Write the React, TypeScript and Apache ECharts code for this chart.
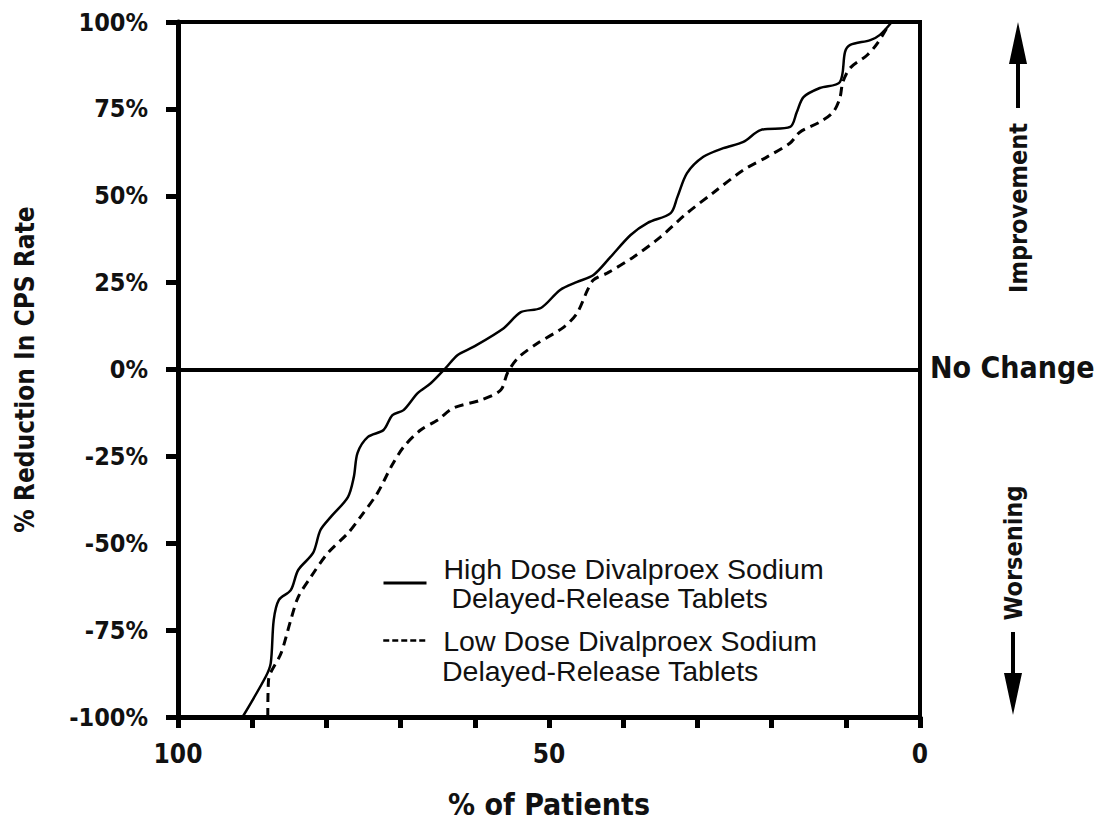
import React, { useEffect, useRef } from "react";
import * as echarts from "echarts";

// % of patients (x) and % reduction in CPS rate (y)
const HIGH_X = [91.3, 88.2, 87.5, 87.1, 86.4, 84.8, 83.8, 81.8, 80.8, 79.4, 77.1, 76.3, 75.8, 74.4, 72.3, 71.1, 69.6, 67.7, 65.9, 63.9, 62.3, 60.2, 56.1, 53.8, 51.1, 48.5, 46.2, 44.0, 41.7, 39.0, 36.7, 33.6, 32.7, 31.4, 29.2, 26.5, 23.8, 21.5, 17.5, 16.6, 15.7, 13.5, 10.8, 10.1, 9.4, 6.7, 5.4, 3.8];
const HIGH_Y = [-100, -88.5, -84.5, -72.1, -66.3, -63.5, -57.7, -52.8, -46.2, -42.4, -36.7, -30.9, -24.0, -19.4, -17.4, -13.1, -11.7, -6.8, -3.9, 0.5, 4.2, 6.5, 11.9, 16.5, 17.7, 22.9, 25.2, 27.2, 32.4, 38.7, 42.2, 45.0, 49.6, 56.5, 61.2, 63.7, 65.5, 68.9, 69.8, 74.1, 78.4, 81.0, 82.7, 91.4, 93.4, 94.8, 96.3, 100];

const LOW_X = [87.9, 87.8, 86.1, 84.8, 83.8, 82.1, 79.8, 77.1, 75.4, 73.1, 71.3, 69.6, 67.3, 65.0, 62.9, 59.2, 56.5, 55.6, 54.2, 51.5, 48.0, 46.2, 44.8, 44.0, 42.1, 38.6, 35.0, 31.4, 27.9, 23.8, 20.6, 17.5, 16.2, 13.5, 11.7, 10.8, 10.4, 9.4, 7.1, 5.7, 4.0];
const LOW_Y = [-100, -89.4, -81.6, -72.1, -65.5, -59.7, -52.8, -47.1, -42.4, -35.5, -28.1, -22.3, -17.4, -14.5, -11.1, -8.8, -5.9, -1.0, 3.3, 7.6, 12.2, 16.3, 22.9, 25.8, 27.8, 32.4, 38.1, 45.0, 50.8, 57.4, 61.2, 65.2, 68.3, 71.2, 74.1, 78.1, 82.7, 86.8, 90.5, 94.0, 100];

const X_LABELS = [100, 50, 0];
const HIGH_NAME = "High Dose Divalproex Sodium Delayed-Release Tablets";
const LOW_NAME = "Low Dose Divalproex Sodium Delayed-Release Tablets";

const COND = "'DejaVu Sans Condensed', 'Liberation Sans Narrow', 'Arial Narrow', sans-serif";
const SANS = "'Liberation Sans', Arial, sans-serif";
const LEGEND_SIZE = 28.5;

export default function App() {
  const ref = useRef<HTMLDivElement>(null);
  useEffect(() => {
    if (!ref.current) return;
    const chart = echarts.init(ref.current, undefined, { renderer: "svg" });
    const high = HIGH_X.map((x, i) => [x, HIGH_Y[i]]);
    const low = LOW_X.map((x, i) => [x, LOW_Y[i]]);
    const legendText = { fontFamily: SANS, fontSize: LEGEND_SIZE, color: "#111", padding: [0, 0, 0, 12] };
    chart.setOption({
      animation: false,
      backgroundColor: "#fff",
      grid: { left: 178, right: 178, top: 22, bottom: 106, show: true, borderColor: "#000", borderWidth: 4 },
      xAxis: {
        type: "value",
        min: 0,
        max: 100,
        interval: 10,
        inverse: true,
        name: "% of Patients",
        nameLocation: "middle",
        nameGap: 72,
        nameTextStyle: { fontFamily: COND, fontWeight: "bold", fontSize: 30, color: "#111" },
        axisLine: { show: true, onZero: false, lineStyle: { color: "#000", width: 5 } },
        axisTick: { show: true, inside: false, length: 11, lineStyle: { color: "#000", width: 5 } },
        axisLabel: {
          margin: 24,
          fontFamily: COND,
          fontWeight: "bold",
          fontSize: 26,
          color: "#111",
          formatter: (v: number) => (X_LABELS.includes(v) ? String(v) : ""),
        },
        splitLine: { show: false },
      },
      yAxis: {
        type: "value",
        min: -100,
        max: 100,
        interval: 25,
        name: "% Reduction In CPS Rate",
        nameLocation: "middle",
        nameRotate: 90,
        nameGap: 140,
        nameTextStyle: { fontFamily: COND, fontWeight: "bold", fontSize: 26, color: "#111" },
        axisLine: { show: true, onZero: false, lineStyle: { color: "#000", width: 5 } },
        axisTick: { show: true, inside: false, length: 12, lineStyle: { color: "#000", width: 5 } },
        axisLabel: {
          margin: 30,
          fontFamily: COND,
          fontWeight: "bold",
          fontSize: 25,
          color: "#111",
          formatter: (v: number) => `${v}%`,
        },
        splitLine: { show: false },
      },
      legend: [
        {
          data: [HIGH_NAME],
          left: 382,
          top: 554,
          padding: 0,
          itemWidth: 43,
          itemHeight: 14,
          itemStyle: { opacity: 0 },
          lineStyle: { width: 3 },
          formatter: () => "High Dose Divalproex Sodium\n Delayed-Release Tablets",
          textStyle: { ...legendText, lineHeight: 29 },
        },
        {
          data: [LOW_NAME],
          left: 382,
          top: 626,
          padding: 0,
          itemWidth: 43,
          itemHeight: 14,
          itemStyle: { opacity: 0 },
          lineStyle: { width: 2.5, type: [6, 3] },
          formatter: () => "Low Dose Divalproex Sodium",
          textStyle: { ...legendText, lineHeight: 28 },
        },
      ],
      series: [
        {
          name: HIGH_NAME,
          type: "line",
          data: high,
          smooth: 0.3,
          symbol: "none",
          lineStyle: { color: "#000", width: 2.5, type: "solid" },
          itemStyle: { color: "#000" },
          markLine: {
            silent: true,
            symbol: ["none", "none"],
            label: { show: false },
            lineStyle: { color: "#000", width: 4, type: "solid" },
            data: [{ yAxis: 0 }],
          },
          z: 3,
        },
        {
          name: LOW_NAME,
          type: "line",
          data: low,
          smooth: 0.3,
          symbol: "none",
          lineStyle: { color: "#000", width: 3, type: [9, 6] },
          itemStyle: { color: "#000" },
          z: 3,
        },
      ],
      graphic: [
        {
          type: "text",
          x: 442,
          y: 671,
          style: { text: "Delayed-Release Tablets", verticalAlign: "middle", fontFamily: SANS, fontSize: LEGEND_SIZE, fill: "#111" },
        },
        {
          type: "text",
          left: 930,
          top: 352,
          style: { text: "No Change", fontFamily: COND, fontWeight: "bold", fontSize: 30, fill: "#111" },
        },
        {
          type: "text",
          x: 1018,
          y: 208,
          rotation: Math.PI / 2,
          style: { text: "Improvement", align: "center", verticalAlign: "middle", fontFamily: COND, fontWeight: "bold", fontSize: 25, fill: "#111" },
        },
        {
          type: "line",
          shape: { x1: 1018, y1: 108, x2: 1018, y2: 58 },
          style: { stroke: "#000", lineWidth: 4 },
        },
        {
          type: "polygon",
          shape: { points: [[1018, 22], [1009, 64], [1027, 64]] },
          style: { fill: "#000" },
        },
        {
          type: "text",
          x: 1013,
          y: 553,
          rotation: Math.PI / 2,
          style: { text: "Worsening", align: "center", verticalAlign: "middle", fontFamily: COND, fontWeight: "bold", fontSize: 25, fill: "#111" },
        },
        {
          type: "line",
          shape: { x1: 1013, y1: 632, x2: 1013, y2: 680 },
          style: { stroke: "#000", lineWidth: 4 },
        },
        {
          type: "polygon",
          shape: { points: [[1013, 715], [1004, 673], [1022, 673]] },
          style: { fill: "#000" },
        },
      ],
    });
    return () => chart.dispose();
  }, []);
  return <div ref={ref} style={{ position: "absolute", left: 0, top: 0, width: 1098, height: 824 }} />;
}
